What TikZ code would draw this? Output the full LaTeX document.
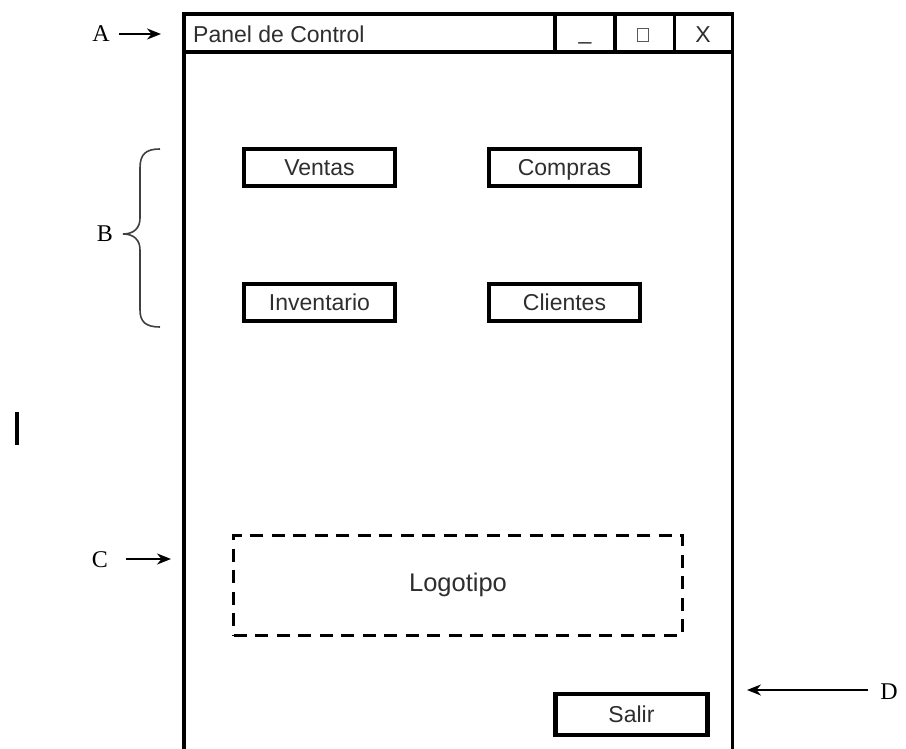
\documentclass[tikz,border=0pt]{standalone}
\usepackage{fontspec}
\setmainfont{Liberation Serif}
\setsansfont{Liberation Sans}
\usetikzlibrary{arrows.meta}
\definecolor{txt}{HTML}{2E2E2E}
\tikzset{
  win/.style={line width=3.5pt, black},
  btn/.style={draw, line width=4.2pt, minimum width=151pt, minimum height=37pt, inner sep=0pt, text height=16pt, text depth=0pt, font=\sffamily\fontsize{23}{23}\selectfont, text=txt},
  lbl/.style={font=\rmfamily\fontsize{24}{24}\selectfont, inner sep=0pt},
  arr/.style={line width=2pt, -{Stealth[length=14pt,width=11pt]}},
  tbtxt/.style={font=\sffamily\fontsize{23}{23}\selectfont, text=txt, inner sep=0pt},
}
\begin{document}
\begin{tikzpicture}[x=1pt,y=-1pt]
\useasboundingbox (0,0) rectangle (906,749);
% window
\coordinate (wbl) at (184,751);
\coordinate (wtl) at (184,14);
\coordinate (wtr) at (732.5,14);
\coordinate (wbr) at (732.5,751);
\draw[win] (wbl) -- (wtl) -- (wtr) -- (wbr);
\coordinate (tbl) at (184,52);
\coordinate (tbr) at (732.5,52);
\draw[win] (tbl) -- (tbr);
\coordinate (d1t) at (555,14); \coordinate (d1b) at (555,52);
\coordinate (d2t) at (615,14); \coordinate (d2b) at (615,52);
\coordinate (d3t) at (674.5,14); \coordinate (d3b) at (674.5,52);
\draw[win] (d1t) -- (d1b) (d2t) -- (d2b) (d3t) -- (d3b);
\node[tbtxt, anchor=west] (title) at (193,34) {Panel de Control};
\node[tbtxt] (minim) at (585,42) {\_};
\node[draw=txt!80, line width=1.6pt, minimum width=11pt, minimum height=13pt, inner sep=0pt] (maxim) at (643,35) {};
\node[tbtxt] (close) at (703,35) {X};
% buttons
\node[btn] (ventas) at (319.5,167.5) {Ventas};
\node[btn] (compras) at (564.5,167.5) {Compras};
\node[btn] (inventario) at (319.5,302.5) {Inventario};
\node[btn] (clientes) at (564.5,302.5) {Clientes};
% logo
\node[draw, dashed, dash pattern=on 13pt off 8.5pt, line width=3pt, minimum width=448.5pt, minimum height=100pt, inner sep=0pt, font=\sffamily\fontsize{25.5}{25.5}\selectfont, text=txt] (logo) at (458,585) {Logotipo};
% salir
\node[btn, minimum width=152pt, minimum height=41pt] (salir) at (631.5,714.5) {Salir};
% labels
\node[lbl] (A) at (101,34) {A};
\coordinate (Ae) at (161,34);
\draw[arr] (A.east) ++(9,0) -- (Ae);
\node[lbl] (B) at (105,234) {B};
\node[lbl] (C) at (100,560) {C};
\coordinate (Ce) at (171,559);
\draw[arr] (C.east) ++(18,-1) -- (Ce);
\node[lbl] (D) at (889,692) {D};
\coordinate (Ds) at (868,690);
\coordinate (De) at (747,690);
\draw[arr] (Ds) -- (De);
% brace
\coordinate (bt) at (160,149);
\coordinate (bm) at (123,234);
\coordinate (bb) at (160,327);
\draw[line width=1.6pt, black!75] (bt) .. controls (146,149) and (140,154) .. (140,168)
  -- (140,218) .. controls (140,228) and (134,234) .. (bm)
  .. controls (134,234) and (140,240) .. (140,250)
  -- (140,310) .. controls (140,322) and (146,327) .. (bb);
% stray bar
\coordinate (i1) at (17,412);
\coordinate (i2) at (17,445);
\draw[line width=4pt] (i1) -- (i2);
\end{tikzpicture}
\end{document}
